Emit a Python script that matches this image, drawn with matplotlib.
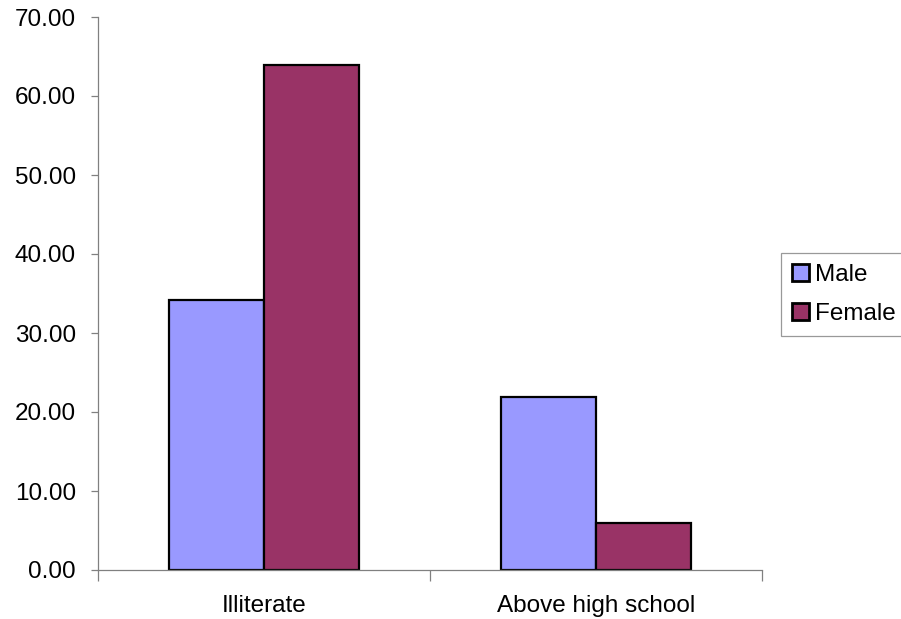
import matplotlib
matplotlib.use("Agg")
import matplotlib.pyplot as plt
import numpy as np
from matplotlib.ticker import FormatStrFormatter

plt.rcParams['font.family'] = ['Liberation Sans', 'DejaVu Sans']

categories = ["Illiterate", "Above high school"]
male = [34.2, 21.9]
female = [63.9, 6.0]
series_names = ["Male", "Female"]
colors = ["#9999FF", "#993366"]

fig = plt.figure(figsize=(9.01, 6.19), dpi=100)
ax = fig.add_axes([98/901, 1-570/619, (762-98)/901, (570-17)/619])

x = np.arange(len(categories))
w = 0.286
ax.bar(x - w/2, male, w, color=colors[0], edgecolor="black", linewidth=1.6, label=series_names[0])
ax.bar(x + w/2, female, w, color=colors[1], edgecolor="black", linewidth=1.6, label=series_names[1])

ax.set_xlim(-0.5, len(categories) - 0.5)
ax.set_ylim(0, 70)
ax.set_yticks(np.arange(0, 71, 10))
ax.yaxis.set_major_formatter(FormatStrFormatter('%.2f'))

ax.set_xticks(np.arange(-0.5, len(categories), 1.0))
ax.set_xticklabels([])
ax.set_xticks(x, minor=True)
ax.set_xticklabels(categories, minor=True)

for s in ["top", "right"]:
    ax.spines[s].set_visible(False)
for s in ["left", "bottom"]:
    ax.spines[s].set_color("#808080")
    ax.spines[s].set_linewidth(0.9)

fs = 17.5
ax.tick_params(axis='y', direction='out', length=5, width=0.9, color="#808080",
               labelsize=fs, pad=11)
ax.tick_params(axis='x', which='major', direction='out', length=8, width=0.9, color="#808080")
ax.tick_params(axis='x', which='minor', length=0, labelsize=fs, pad=18)

leg = fig.legend(loc='upper left', bbox_to_anchor=(781/901, 1-253/619),
                 fontsize=fs, frameon=True, fancybox=False, borderpad=0.45,
                 handlelength=0.7, handleheight=0.7, handletextpad=0.25,
                 labelspacing=0.7, borderaxespad=0)
leg.get_frame().set_edgecolor("#808080")
leg.get_frame().set_linewidth(0.9)
for h in leg.legend_handles:
    h.set_linewidth(2.0)

fig.savefig("out.png", dpi=100)
